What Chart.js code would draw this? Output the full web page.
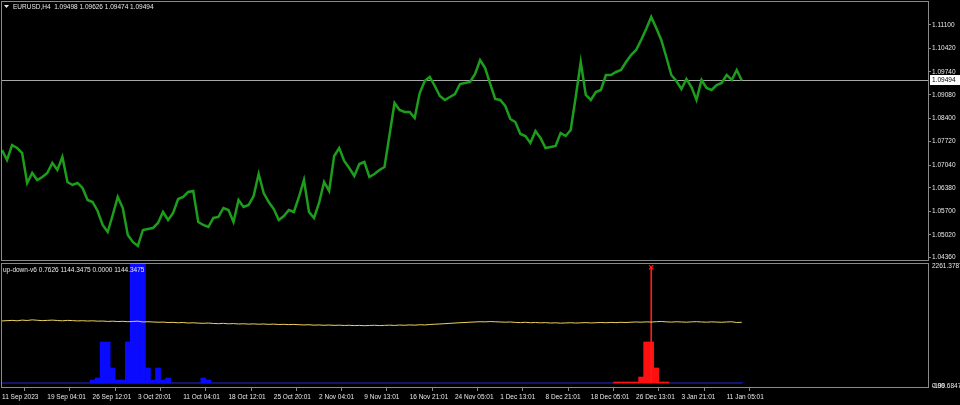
<!DOCTYPE html>
<html><head><meta charset="utf-8">
<script src="https://cdn.jsdelivr.net/npm/chart.js@4.4.1/dist/chart.umd.min.js"></script>
<style>
html,body{margin:0;padding:0;background:#000;width:960px;height:405px;overflow:hidden}
#wrapA{position:absolute;left:0;top:0;width:960px;height:262px}
#wrapB{position:absolute;left:0;top:262px;width:960px;height:143px}
</style></head><body>
<div id="wrapA"><canvas id="main"></canvas></div>
<div id="wrapB"><canvas id="ind"></canvas></div>
<script>
// ---------- data ----------
const symbolTitle = "EURUSD,H4  1.09498 1.09626 1.09474 1.09494";
const indicatorTitle = "up-down-v6 0.7626 1144.3475 0.0000 1144.3475";
const timeLabels = ["11 Sep 2023","19 Sep 04:01","26 Sep 12:01","3 Oct 20:01","11 Oct 04:01","18 Oct 12:01","25 Oct 20:01","2 Nov 04:01","9 Nov 13:01","16 Nov 21:01","24 Nov 05:01","1 Dec 13:01","8 Dec 21:01","18 Dec 05:01","26 Dec 13:01","3 Jan 21:01","11 Jan 05:01"];
const slotsPerLabel = 9;      // time slots between two axis labels
const slotCount = 185;        // visible time slots incl. empty right margin
const priceTickLabels = ["1.11100","1.10420","1.09740","1.09080","1.08400","1.07720","1.07040","1.06380","1.05700","1.05020","1.04360"];
const priceMin = 1.04264, priceMax = 1.11795;
const indTickLabels = ["2261.3787","0.00","-199.6847"];
const indMin = -94.2, indMax = 2261.3787;

const closes = [
1.07479,1.07190,1.07624,1.07537,1.07392,1.06524,1.06813,1.06610,1.06697,1.06813,
1.07103,1.06900,1.07277,1.06552,1.06466,1.06524,1.06379,1.06031,1.05973,1.05713,
1.05307,1.05104,1.05597,1.06118,1.05799,1.05017,1.04815,1.04699,1.05162,1.05191,
1.05220,1.05365,1.05684,1.05452,1.05655,1.06060,1.06118,1.06263,1.06292,1.05394,
1.05307,1.05249,1.05510,1.05539,1.05799,1.05742,1.05394,1.06031,1.05828,1.05886,
1.06147,1.06784,1.06234,1.05973,1.05770,1.05452,1.05568,1.05742,1.05684,1.06118,
1.06610,1.05684,1.05510,1.05944,1.06552,1.06292,1.07306,1.07537,1.07161,1.06958,
1.06726,1.07074,1.07132,1.06697,1.06784,1.06900,1.06987,1.07914,1.08841,1.08638,
1.08580,1.08580,1.08406,1.09130,1.09478,1.09594,1.09333,1.09043,1.08928,1.09015,
1.09101,1.09391,1.09420,1.09449,1.09681,1.10086,1.09854,1.09391,1.08957,1.08928,
1.08754,1.08377,1.08290,1.07943,1.07885,1.07682,1.08030,1.07827,1.07537,1.07566,
1.07595,1.07972,1.07885,1.08059,1.09015,1.10028,1.09072,1.08928,1.09159,1.09217,
1.09652,1.09652,1.09739,1.09797,1.10028,1.10231,1.10376,1.10666,1.10984,1.11332,
1.11013,1.10666,1.10173,1.09652,1.09478,1.09246,1.09536,1.09304,1.08928,1.09507,
1.09275,1.09217,1.09362,1.09420,1.09652,1.09507,1.09797,1.09494];

const yellowLine = [
1170,1175,1180,1172,1185,1178,1190,1182,1175,1180,
1185,1178,1172,1180,1176,1170,1174,1168,1172,1165,
1168,1160,1165,1158,1162,1155,1160,1165,1150,1155,
1150,1145,1148,1140,1143,1135,1140,1130,1135,1128,
1125,1130,1122,1118,1124,1115,1120,1112,1116,1110,
1114,1108,1112,1105,1110,1102,1106,1100,1104,1098,
1094,1098,1090,1094,1088,1092,1086,1090,1084,1088,
1082,1086,1080,1084,1088,1082,1086,1090,1085,1092,
1088,1095,1090,1098,1094,1102,1108,1112,1118,1124,
1130,1136,1140,1146,1150,1155,1152,1158,1154,1150,
1146,1150,1142,1138,1144,1136,1140,1134,1138,1130,
1134,1128,1132,1136,1130,1134,1138,1132,1136,1140,
1136,1142,1138,1144,1140,1146,1150,1146,1152,1148,
1155,1160,1152,1148,1154,1150,1146,1152,1156,1150,
1146,1152,1148,1144,1150,1154,1140,1144.3475];

// [slot, value] pairs of the non-empty histogram bars
const blueBars = [[18,57],[19,94],[20,773],[21,773],[22,283],[23,57],[24,57],[25,773],[26,2261.3787],[27,2261.3787],[28,2261.3787],[29,283],[30,57],[31,283],[32,57],[33,94],[40,94],[41,57],[147,0.7626]];
const redBars = [[122,19],[123,19],[124,19],[125,19],[126,19],[127,113],[128,773],[129,773],[130,283],[131,19],[132,19]];
const redSignal = [[129,2180]];
const zeroBufferValue = 0; // third buffer reads 0.0000 on every bar

// ---------- build ----------
const slots = Array.from({length: slotCount}, (_, i) => String(i));
const sparse = pairs => { const a = new Array(closes.length).fill(null); pairs.forEach(([i, v]) => a[i] = v); return a; };
const blueHist = sparse(blueBars), redHist = sparse(redBars), redSig = sparse(redSignal);
const zeroBuffer = closes.map(() => zeroBufferValue);

const FONT = 'Liberation Sans';
const TXT = '#e8e8e8';
const FRAME = '#8a8a8a';

const framePlugin = {
  id: 'frame',
  afterDraw(chart) {
    const {ctx, chartArea: a} = chart;
    ctx.save();
    ctx.strokeStyle = FRAME; ctx.lineWidth = 1;
    ctx.strokeRect(1.5, Math.round(a.top) + 0.5, Math.round(a.right) - 1, Math.round(a.bottom - a.top) - 1);
    ctx.restore();
  }
};

const mainDecor = {
  id: 'mainDecor',
  beforeDatasetsDraw(chart) {
    const {ctx, chartArea: a, scales: {y}} = chart;
    const py = Math.round(y.getPixelForValue(closes[closes.length - 1])) + 0.5;
    ctx.save();
    ctx.strokeStyle = '#a8a8a8'; ctx.lineWidth = 1;
    ctx.beginPath(); ctx.moveTo(a.left, py); ctx.lineTo(a.right, py); ctx.stroke();
    ctx.restore();
  },
  afterDraw(chart) {
    const {ctx, chartArea: a, scales: {y}} = chart;
    const last = closes[closes.length - 1];
    const py = Math.round(y.getPixelForValue(last));
    ctx.save();
    ctx.fillStyle = '#ffffff';
    ctx.fillRect(a.right + 2, py - 5, 31, 10);
    ctx.fillStyle = '#000';
    ctx.font = `6.5px ${FONT}`;
    ctx.textBaseline = 'middle'; ctx.textAlign = 'left';
    ctx.fillText(last.toFixed(5), a.right + 4, py + 0.5);
    // title
    ctx.fillStyle = TXT;
    ctx.beginPath(); ctx.moveTo(4, 5); ctx.lineTo(9, 5); ctx.lineTo(6.5, 8); ctx.closePath(); ctx.fill();
    ctx.fillText(symbolTitle, 13, 7.5);
    ctx.restore();
  }
};

const indDecor = {
  id: 'indDecor',
  afterDraw(chart) {
    const {ctx} = chart;
    ctx.save();
    ctx.fillStyle = TXT;
    ctx.font = `6.5px ${FONT}`;
    ctx.textBaseline = 'middle'; ctx.textAlign = 'left';
    ctx.fillText(indicatorTitle, 3, 8);
    ctx.restore();
  }
};

const commonX = (display) => ({
  type: 'category', offset: false, display,
  afterBuildTicks(s) { s.ticks = timeLabels.map((_, k) => ({value: k * slotsPerLabel})); },
  afterFit(s) { if (display) { s.height = 17; } s.paddingLeft = 0; s.paddingRight = 0; },
  ticks: {autoSkip: false, maxRotation: 0, minRotation: 0, align: 'start', labelOffset: 0, padding: 2,
          color: TXT, font: {family: FONT, size: 6.5}, callback: (v, i) => timeLabels[i]},
  grid: {display: true, drawOnChartArea: false, drawTicks: true, tickLength: 3, color: FRAME},
  border: {display: false}
});

new Chart(document.getElementById('main'), {
  type: 'line',
  data: {labels: slots, datasets: [{
    data: closes, borderColor: '#1c9e1c', borderWidth: 2.5, pointRadius: 0, tension: 0, borderJoinStyle: 'miter'
  }]},
  options: {
    responsive: true, maintainAspectRatio: false, animation: false, devicePixelRatio: 1,
    layout: {autoPadding: false, padding: {left: 2, top: 1, bottom: 1, right: 0}},
    plugins: {legend: {display: false}, tooltip: {enabled: false}},
    scales: {
      x: commonX(false),
      y: {
        position: 'right', min: priceMin, max: priceMax,
        afterFit(s) { s.width = 32; s.paddingTop = 0; s.paddingBottom = 0; },
        afterBuildTicks(s) { s.ticks = priceTickLabels.map(l => ({value: parseFloat(l)})); },
        ticks: {callback: (v, i) => priceTickLabels[i], color: TXT, font: {family: FONT, size: 6.5}, padding: 1},
        grid: {display: true, drawOnChartArea: false, drawTicks: true, tickLength: 3, color: FRAME},
        border: {display: false}
      }
    }
  },
  plugins: [framePlugin, mainDecor]
});

new Chart(document.getElementById('ind'), {
  type: 'bar',
  data: {labels: slots, datasets: [
    {type: 'line', data: yellowLine, borderColor: '#ecd25e', borderWidth: 1, pointRadius: 0, tension: 0, order: 0},
    {type: 'line', data: redSig, showLine: false, pointStyle: 'crossRot', pointRadius: 3, pointBorderColor: '#ff1a1a', pointBorderWidth: 1.2, order: 1},
    {type: 'bar', data: redSig, backgroundColor: '#ff1a1a', barThickness: 1, grouped: false, order: 2},
    {type: 'bar', data: blueHist, backgroundColor: '#0a0aff', categoryPercentage: 1, barPercentage: 1, grouped: false, order: 3},
    {type: 'bar', data: redHist, backgroundColor: '#ff1010', categoryPercentage: 1, barPercentage: 1, grouped: false, order: 3},
    {type: 'line', data: zeroBuffer, borderColor: '#1a1a8c', borderWidth: 1.5, pointRadius: 0, tension: 0, order: 4}
  ]},
  options: {
    responsive: true, maintainAspectRatio: false, animation: false, devicePixelRatio: 1,
    layout: {autoPadding: false, padding: {left: 2, top: 1, bottom: 0, right: 0}},
    plugins: {legend: {display: false}, tooltip: {enabled: false}},
    scales: {
      x: commonX(true),
      y: {
        position: 'right', min: indMin, max: indMax,
        afterFit(s) { s.width = 32; s.paddingTop = 0; s.paddingBottom = 0; },
        afterBuildTicks(s) { s.ticks = [{value: indMax}, {value: 0}, {value: 0}]; },
        ticks: {callback: (v, i) => indTickLabels[i], color: TXT, font: {family: FONT, size: 6.5}, padding: 4, labelOffset: 3},
        grid: {display: false, drawTicks: false, tickLength: 0},
        border: {display: false}
      }
    }
  },
  plugins: [framePlugin, indDecor]
});
</script>
</body></html>
